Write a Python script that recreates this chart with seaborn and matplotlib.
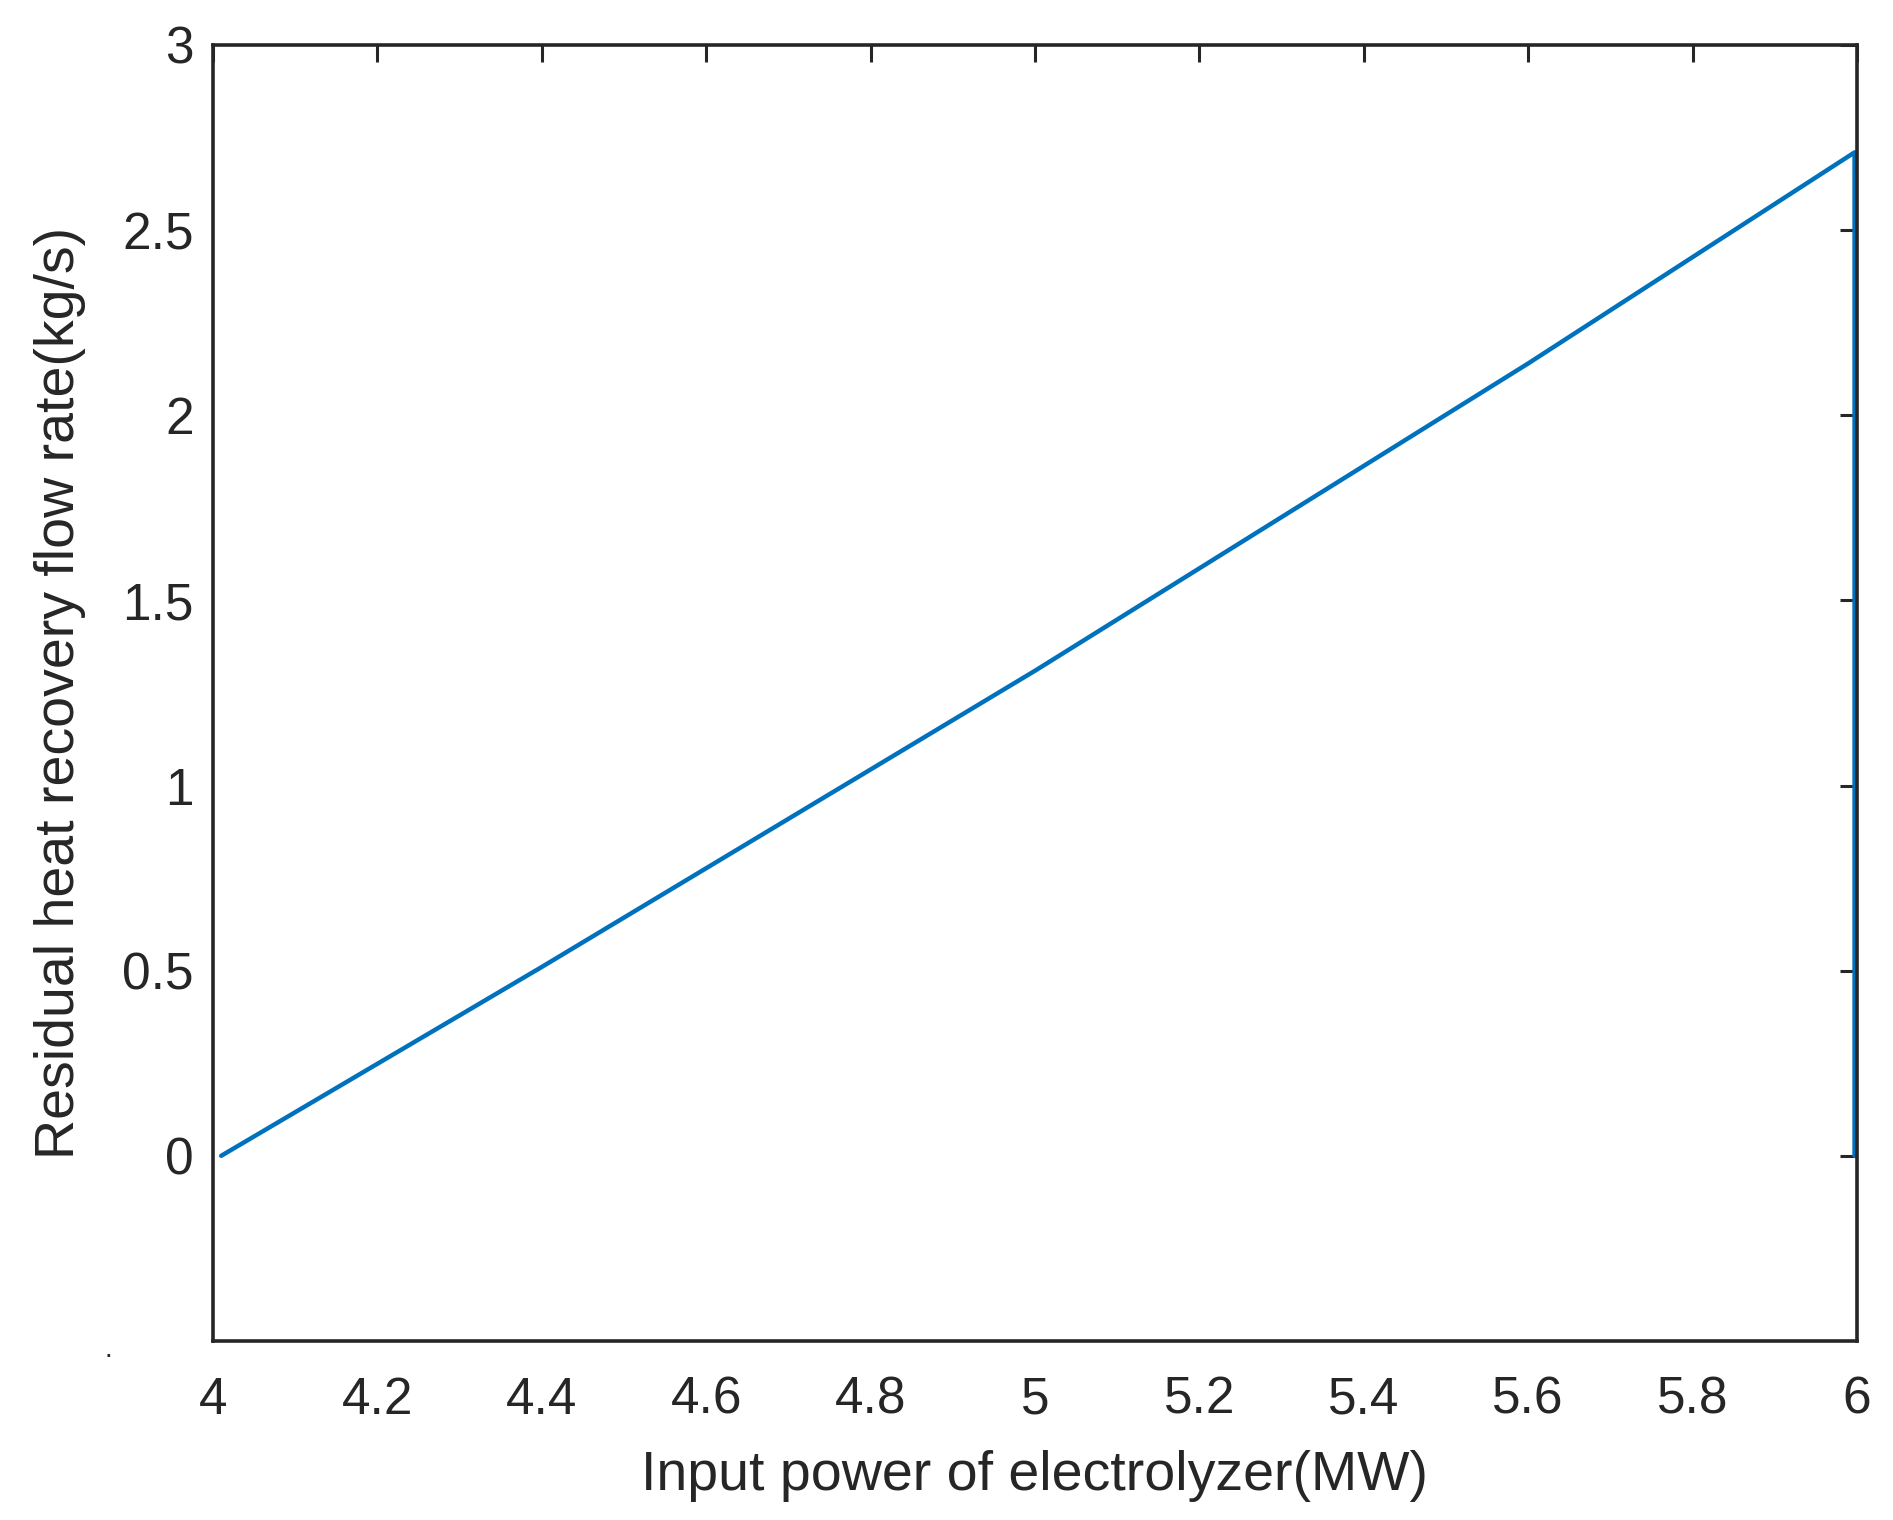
import numpy as np
import pandas as pd
import matplotlib
matplotlib.use("Agg")
import matplotlib.pyplot as plt
from matplotlib import font_manager
import seaborn as sns

# data
power_mw = [4.01, 4.4, 5.0, 5.6, 5.997, 5.997]
flow_kgs = [0.0, 0.51, 1.31, 2.14, 2.71, 0.0]
xticks = [4.0, 4.2, 4.4, 4.6, 4.8, 5.0, 5.2, 5.4, 5.6, 5.8, 6.0]
xticklabels = ["4", "4.2", "4.4", "4.6", "4.8", "5", "5.2", "5.4", "5.6", "5.8", "6"]
yticks = [0.0, 0.5, 1.0, 1.5, 2.0, 2.5, 3.0]
yticklabels = ["0", "0.5", "1", "1.5", "2", "2.5", "3"]

sns.set_theme(style="white")
names = {f.name for f in font_manager.fontManager.ttflist}
base_font = "Liberation Sans" if "Liberation Sans" in names else "DejaVu Sans"
label_font = "Liberation Sans Narrow" if "Liberation Sans Narrow" in names else base_font
plt.rcParams["font.family"] = [base_font, "DejaVu Sans"]

df = pd.DataFrame({"x": power_mw, "y": flow_kgs})

fig = plt.figure(figsize=(18.93, 15.2), dpi=100)
ax = fig.add_axes([0.1125, 0.1178, 0.981 - 0.1125, 0.9704 - 0.1178])
sns.lineplot(data=df, x="x", y="y", sort=False, estimator=None,
             color="#0072BD", linewidth=3.2, ax=ax)

ax.set_xlim(4, 6)
ax.set_ylim(-0.5, 3)
ax.set_xticks(xticks)
ax.set_xticklabels(xticklabels)
ax.set_yticks(yticks)
ax.set_yticklabels(yticklabels)
ax.tick_params(direction="in", length=12, width=2.2, top=True, right=True,
               labelsize=37, colors="#262626", pad=14)
ax.tick_params(axis="x", pad=25)
for s in ax.spines.values():
    s.set_linewidth(2.6)
    s.set_color("#262626")
    s.set_visible(True)

lsize = 47 if label_font != base_font else 40
ax.set_xlabel("Input power of electrolyzer(MW)", fontsize=lsize, family=label_font,
              color="#262626", labelpad=18)
ax.set_ylabel("Residual heat recovery flow rate(kg/s)", fontsize=lsize, family=label_font,
              color="#262626", labelpad=26)
fig.text(108 / 1893, 1 - 1350 / 1520, ".", fontsize=20, color="#262626", ha="center", va="center")

fig.savefig("out.png", dpi=100, facecolor="white")
